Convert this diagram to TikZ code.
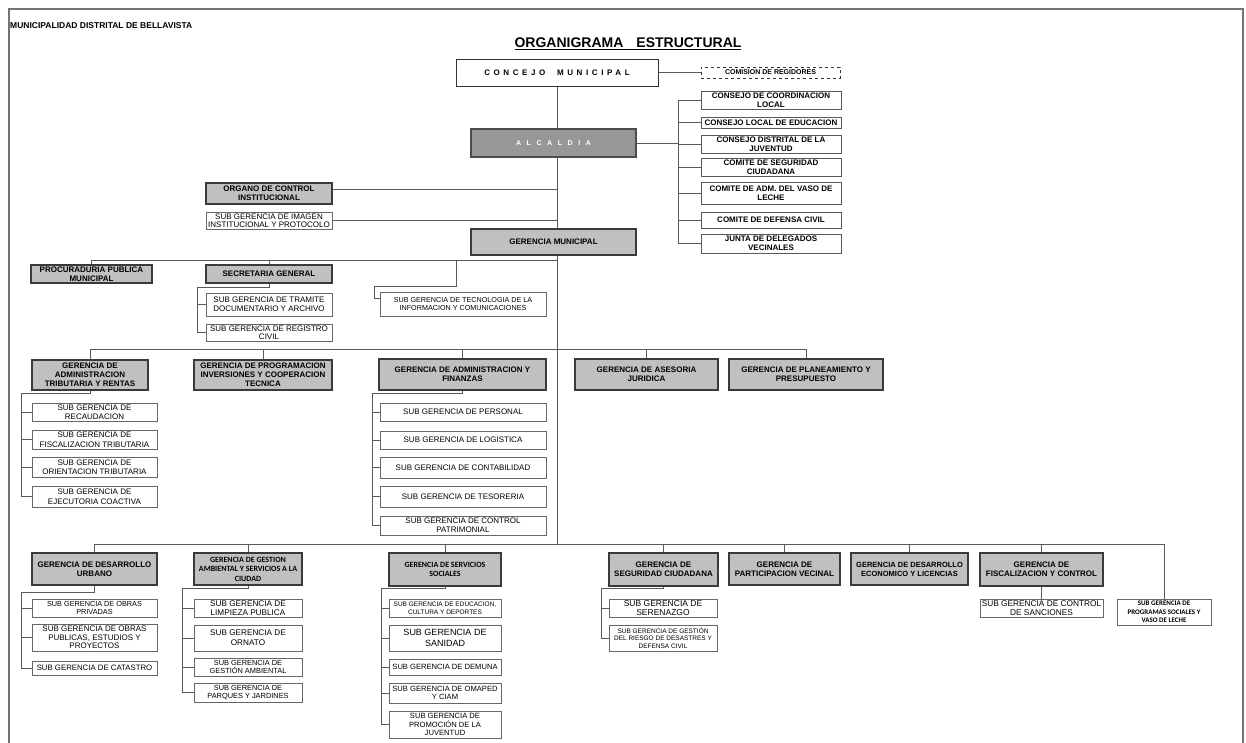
\documentclass[tikz,border=0pt]{standalone}
\usepackage{fontspec}
\setmainfont{Liberation Sans}
\newfontfamily\carl{Carlito}
\pgfdeclarelayer{bg}
\pgfsetlayers{bg,main}
\definecolor{gfill}{HTML}{C0C0C0}
\definecolor{afill}{HTML}{979797}
\definecolor{lnc}{HTML}{5A5A5A}
\definecolor{bdr}{HTML}{3A3A3A}
\newcommand\fs[2]{\fontsize{#1}{#2}\selectfont}
\newcommand\bx[7]{\node[#2, minimum width={(#5)-(#3)}, minimum height={(#6)-(#4)}] (#1) at ({((#3)+(#5))/2},{((#4)+(#6))/2}) {#7};}
\begin{document}
\begin{tikzpicture}[x=1pt,y=-1pt,
  gbox/.style={draw=bdr, fill=gfill, line width=1.4pt, inner sep=0pt, align=center, font=\bfseries\fs{8}{9}},
  sbox/.style={draw=black!60, fill=white, line width=0.7pt, inner sep=0pt, align=center, font=\fs{8}{9.5}},
  cbox/.style={draw=black!65, fill=white, line width=0.8pt, inner sep=0pt, align=center, font=\bfseries\fs{8}{9}},
  conn/.style={draw=lnc, line width=0.9pt},
  frame/.style={draw=black!55, line width=2pt}]
\useasboundingbox (0,0) rectangle (1246,742);
\draw[frame] (9,9) rectangle (1243,760);

\node[anchor=west, inner sep=0pt, font=\bfseries\fs{8.5}{9}] (hdr) at (10,26) {MUNICIPALIDAD DISTRITAL DE BELLAVISTA};
\node[inner sep=0pt, font=\bfseries\fs{14}{16}] (ttl) at (628,44) {\underline{ORGANIGRAMA\hspace{13pt}ESTRUCTURAL}};

% top
\bx{concejo}{cbox, line width=1pt, draw=black!80}{456}{59}{658}{86}{\addfontfeature{LetterSpace=45}CONCEJO\ \ MUNICIPAL}
\bx{comision}{cbox, dashed, draw=black!80, font=\bfseries\fs{7}{8}}{701}{67}{840}{78}{COMISION DE REGIDORES}
\bx{alc}{gbox, fill=afill, line width=1.8pt, draw=black!70, text=white, font=\bfseries\fs{7}{8}}{471}{129}{636}{157}{\addfontfeature{LetterSpace=80}ALCALDIA}

\bx{c1}{cbox}{701}{91}{841}{109}{CONSEJO DE COORDINACION\\LOCAL}
\bx{c2}{cbox}{701}{117}{841}{128}{CONSEJO LOCAL DE EDUCACION}
\bx{c3}{cbox}{701}{135}{841}{153}{CONSEJO DISTRITAL DE LA\\JUVENTUD}
\bx{c4}{cbox}{701}{158}{841}{176}{COMITE DE SEGURIDAD\\CIUDADANA}
\bx{c5}{cbox}{701}{182}{841}{204}{COMITE DE ADM. DEL VASO DE\\LECHE}
\bx{c6}{cbox}{701}{212}{841}{228}{COMITE DE DEFENSA CIVIL}
\bx{c7}{cbox}{701}{234}{841}{253}{JUNTA DE DELEGADOS\\VECINALES}

\bx{oci}{gbox}{206}{183}{332}{204}{ORGANO DE CONTROL\\INSTITUCIONAL}
\bx{imagen}{sbox, font=\fs{8}{8.5}}{206}{212}{332}{229}{SUB GERENCIA DE IMAGEN\\INSTITUCIONAL Y PROTOCOLO}
\bx{germ}{gbox}{471}{229}{636}{255}{GERENCIA MUNICIPAL}

\bx{procur}{gbox}{31}{265}{152}{283}{PROCURADURIA PUBLICA\\MUNICIPAL}
\bx{sec}{gbox}{206}{265}{332}{283}{SECRETARIA GENERAL}
\bx{tram}{sbox, font=\fs{8}{9}}{206}{293}{332}{316}{SUB GERENCIA DE TRAMITE\\DOCUMENTARIO Y ARCHIVO}
\bx{reg}{sbox, font=\fs{8}{8.5}}{206}{324}{332}{341}{SUB GERENCIA DE REGISTRO\\CIVIL}
\bx{tech}{sbox, font=\fs{7.2}{8.5}}{380}{292}{546}{316}{SUB GERENCIA DE TECNOLOGIA DE LA\\INFORMACION Y COMUNICACIONES}

% second row
\bx{rentas}{gbox}{32}{360}{148}{390}{GERENCIA DE\\ADMINISTRACION\\TRIBUTARIA Y RENTAS}
\bx{prog}{gbox}{194}{360}{332}{390}{GERENCIA DE PROGRAMACION\\INVERSIONES Y COOPERACION\\TECNICA}
\bx{finz}{gbox}{379}{359}{546}{390}{GERENCIA DE ADMINISTRACION Y\\FINANZAS}
\bx{jur}{gbox}{575}{359}{718}{390}{GERENCIA DE ASESORIA\\JURIDICA}
\bx{plan}{gbox}{729}{359}{883}{390}{GERENCIA DE PLANEAMIENTO Y\\PRESUPUESTO}

\bx{r1}{sbox}{32}{403}{157}{421}{SUB GERENCIA DE\\RECAUDACION}
\bx{r2}{sbox}{32}{430}{157}{449}{SUB GERENCIA DE\\FISCALIZACION TRIBUTARIA}
\bx{r3}{sbox}{32}{457}{157}{477}{SUB GERENCIA DE\\ORIENTACION TRIBUTARIA}
\bx{r4}{sbox}{32}{486}{157}{507}{SUB GERENCIA DE\\EJECUTORIA COACTIVA}

\bx{f1}{sbox}{380}{403}{546}{421}{SUB GERENCIA DE PERSONAL}
\bx{f2}{sbox}{380}{431}{546}{449}{SUB GERENCIA DE LOGISTICA}
\bx{f3}{sbox}{380}{457}{546}{478}{SUB GERENCIA DE CONTABILIDAD}
\bx{f4}{sbox}{380}{486}{546}{507}{SUB GERENCIA DE TESORERIA}
\bx{f5}{sbox, font=\fs{8}{9}}{380}{516}{546}{535}{SUB GERENCIA DE CONTROL\\PATRIMONIAL}

% third row
\bx{du}{gbox}{32}{553}{157}{585}{GERENCIA DE DESARROLLO\\URBANO}
\bx{ga}{gbox, font=\carl\bfseries\fs{8}{9.5}}{194}{553}{302}{585}{GERENCIA DE GESTION\\AMBIENTAL Y SERVICIOS A LA\\CIUDAD}
\bx{ss}{gbox, font=\carl\bfseries\fs{8}{9.5}}{389}{553}{501}{586}{GERENCIA DE SERVICIOS\\SOCIALES}
\bx{seg}{gbox}{609}{553}{718}{586}{GERENCIA DE\\SEGURIDAD CIUDADANA}
\bx{pv}{gbox}{729}{553}{840}{585}{GERENCIA DE\\PARTICIPACION VECINAL}
\bx{de}{gbox, font=\bfseries\fs{7.5}{9}}{851}{553}{968}{585}{GERENCIA DE DESARROLLO\\ECONOMICO Y LICENCIAS}
\bx{fc}{gbox}{980}{553}{1103}{586}{GERENCIA DE\\FISCALIZACION Y CONTROL}
\bx{cs}{sbox, font=\fs{8.3}{9}}{980}{599}{1103}{617}{SUB GERENCIA DE CONTROL\\DE SANCIONES}
\bx{psv}{sbox, font=\carl\bfseries\fs{7}{8.5}}{1117}{599}{1211}{625}{SUB GERENCIA DE\\PROGRAMAS SOCIALES Y\\VASO DE LECHE}

\bx{u1}{sbox, font=\fs{7.3}{8.5}}{32}{599}{157}{617}{SUB GERENCIA DE OBRAS\\PRIVADAS}
\bx{u2}{sbox, font=\fs{8}{8.5}}{32}{624}{157}{651}{SUB GERENCIA DE OBRAS\\PUBLICAS, ESTUDIOS Y\\PROYECTOS}
\bx{u3}{sbox, font=\fs{7.8}{9}}{32}{661}{157}{675}{SUB GERENCIA DE CATASTRO}

\bx{g1}{sbox, font=\fs{8.2}{9}}{194}{599}{302}{617}{SUB GERENCIA DE\\LIMPIEZA PUBLICA}
\bx{g2}{sbox, font=\fs{8.2}{10}}{194}{625}{302}{651}{SUB GERENCIA DE\\ORNATO}
\bx{g3}{sbox, font=\fs{7.4}{8.5}}{194}{658}{302}{676}{SUB GERENCIA DE\\GESTIÓN AMBIENTAL}
\bx{g4}{sbox, font=\fs{7.4}{8.5}}{194}{683}{302}{702}{SUB GERENCIA DE\\PARQUES Y JARDINES}

\bx{s1}{sbox, font=\fs{6.5}{7.5}}{389}{599}{501}{617}{SUB GERENCIA DE EDUCACION,\\CULTURA Y DEPORTES}
\bx{s2}{sbox, font=\fs{9}{10.5}}{389}{625}{501}{651}{SUB GERENCIA DE\\SANIDAD}
\bx{s3}{sbox, font=\fs{7.6}{8.5}}{389}{659}{501}{675}{SUB GERENCIA DE DEMUNA}
\bx{s4}{sbox, font=\fs{7.6}{8.5}}{389}{683}{501}{703}{SUB GERENCIA DE OMAPED\\Y CIAM}
\bx{s5}{sbox, font=\fs{7.6}{8.5}}{389}{711}{501}{738}{SUB GERENCIA DE\\PROMOCIÓN DE LA\\JUVENTUD}

\bx{q1}{sbox, font=\fs{8.5}{9.5}}{609}{599}{717}{617}{SUB GERENCIA DE\\SERENAZGO}
\bx{q2}{sbox, font=\fs{6.5}{7.5}}{609}{625}{717}{651}{SUB GERENCIA DE GESTIÓN\\DEL RIESGO DE DESASTRES Y\\DEFENSA CIVIL}

% connectors
\coordinate (b1) at (0,260);
\coordinate (b2) at (0,349);
\coordinate (b3) at (0,544);
\coordinate (o1) at (0,189);
\coordinate (cbus) at (678,0);
\coordinate (t1) at (456,260);
\coordinate (t2) at (374,286);
\coordinate (secb) at (197,287);
\coordinate (rb) at (21,393);
\coordinate (fb) at (372,393);
\coordinate (ub) at (21,592);
\coordinate (gb) at (182,588);
\coordinate (sb) at (381,588);
\coordinate (qb) at (601,588);

\begin{pgfonlayer}{bg}
\draw[conn] (concejo.south) -- (concejo.south |- b3);
\draw[conn] (concejo.east) -- (comision.west);
\draw[conn] (alc.east) -- (alc.east -| cbus);
\draw[conn] (c1.west -| cbus) -- (c7.west -| cbus);
\foreach \n in {c1,c2,c3,c4,c5,c6,c7} \draw[conn] (\n.west) -- (\n.west -| cbus);
\draw[conn] (oci.east |- o1) -- (concejo.south |- o1);
\draw[conn] (imagen.east) -- (imagen.east -| concejo.south);
\draw[conn] (procur.north |- b1) -- (concejo.south |- b1);
\draw[conn] (procur.north) -- (procur.north |- b1);
\draw[conn] (sec.north) -- (sec.north |- b1);
\draw[conn] (t1) |- (t2) |- ([yshift=6pt]tech.west);
\draw[conn] (sec.south) |- (secb) |- (reg.west);
\draw[conn] (tram.west) -- (tram.west -| secb);

\draw[conn] (rentas.north |- b2) -- (plan.north |- b2);
\foreach \n in {rentas,prog,finz,jur,plan} \draw[conn] (\n.north) -- (\n.north |- b2);
\draw[conn] (rentas.south) |- (rb) |- (r4.west);
\foreach \n in {r1,r2,r3} \draw[conn] (\n.west) -- (\n.west -| rb);
\draw[conn] (finz.south) |- (fb) |- (f5.west);
\foreach \n in {f1,f2,f3,f4} \draw[conn] (\n.west) -- (\n.west -| fb);

\draw[conn] (du.north |- b3) -- (psv.north |- b3);
\foreach \n in {du,ga,ss,seg,pv,de,fc,psv} \draw[conn] (\n.north) -- (\n.north |- b3);
\draw[conn] (fc.south) -- (cs.north);
\draw[conn] (du.south) |- (ub) |- (u3.west);
\foreach \n in {u1,u2} \draw[conn] (\n.west) -- (\n.west -| ub);
\draw[conn] (ga.south) |- (gb) |- (g4.west);
\foreach \n in {g1,g2,g3} \draw[conn] (\n.west) -- (\n.west -| gb);
\draw[conn] (ss.south) |- (sb) |- (s5.west);
\foreach \n in {s1,s2,s3,s4} \draw[conn] (\n.west) -- (\n.west -| sb);
\draw[conn] (seg.south) |- (qb) |- (q2.west);
\draw[conn] (q1.west) -- (q1.west -| qb);
\end{pgfonlayer}
\end{tikzpicture}
\end{document}
